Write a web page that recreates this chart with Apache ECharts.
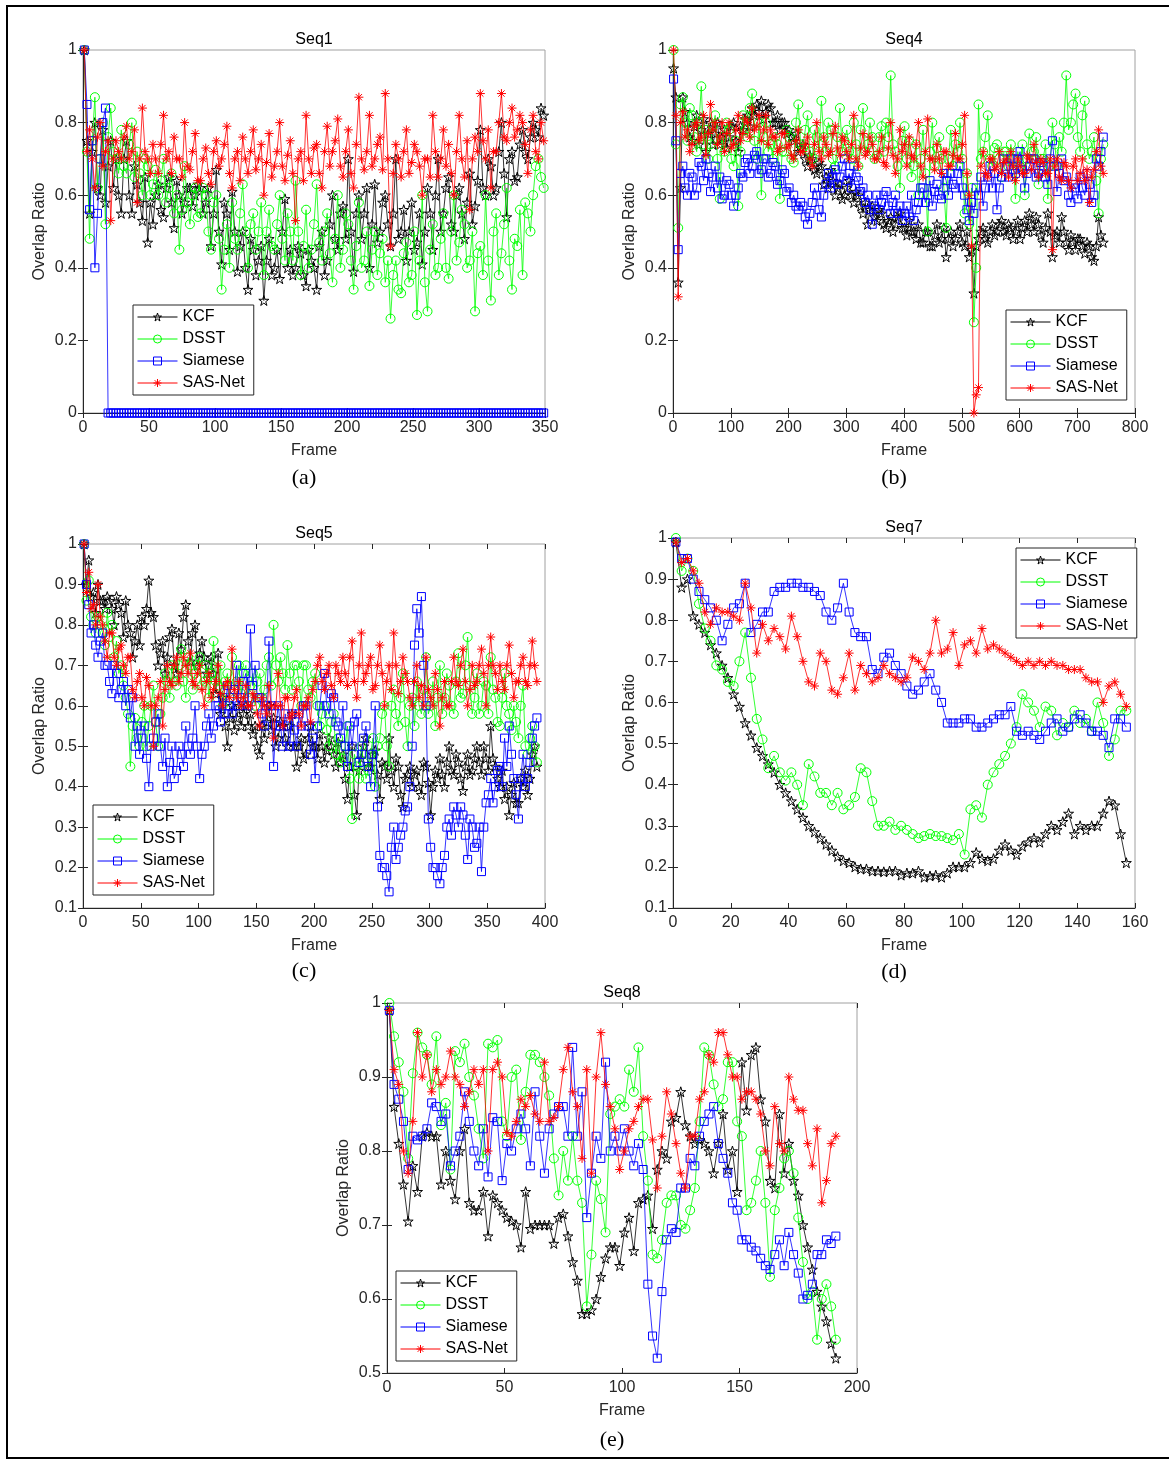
<!doctype html>
<html>
<head>
<meta charset="utf-8">
<title>Overlap Ratio</title>
<script src="https://cdn.jsdelivr.net/npm/echarts@6/dist/echarts.min.js"></script>
<style>
html, body { margin: 0; padding: 0; background: #fff; }
#main { width: 1169px; height: 1461px; }
</style>
</head>
<body>
<div id="main"></div>
<script>
var trackers = ['KCF', 'DSST', 'Siamese', 'SAS-Net'];

// Seq1: one value every 2 frames, starting at frame 1
var seq1Step = 2;
var seq1KCF = [1.0,0.75,0.55,0.72,0.8,0.62,0.6,0.78,0.58,0.68,0.75,0.62,0.7,0.6,0.55,0.7,0.75,0.6,0.55,0.68,
  0.63,0.58,0.53,0.65,0.47,0.58,0.52,0.6,0.63,0.56,0.54,0.62,0.65,0.58,0.51,0.64,0.6,0.55,0.58,0.62,
  0.62,0.57,0.6,0.63,0.62,0.55,0.58,0.62,0.46,0.55,0.67,0.5,0.41,0.58,0.55,0.45,0.61,0.5,0.39,0.46,
  0.5,0.4,0.34,0.48,0.45,0.38,0.42,0.46,0.31,0.42,0.48,0.38,0.4,0.45,0.37,0.5,0.59,0.4,0.45,0.38,
  0.4,0.46,0.44,0.38,0.35,0.45,0.42,0.4,0.34,0.46,0.5,0.38,0.42,0.52,0.6,0.48,0.45,0.55,0.57,0.48,
  0.7,0.5,0.39,0.55,0.6,0.48,0.55,0.62,0.4,0.52,0.63,0.47,0.5,0.58,0.6,0.52,0.46,0.55,0.7,0.48,
  0.5,0.56,0.42,0.5,0.58,0.45,0.47,0.55,0.41,0.5,0.62,0.55,0.45,0.6,0.7,0.5,0.55,0.62,0.65,0.52,
  0.5,0.6,0.62,0.55,0.48,0.58,0.66,0.52,0.57,0.64,0.78,0.62,0.6,0.7,0.68,0.6,0.62,0.72,0.8,0.66,
  0.54,0.7,0.72,0.64,0.65,0.74,0.78,0.72,0.7,0.76,0.8,0.78,0.76,0.84,0.82];
var seq1DSST = [1.0,0.72,0.48,0.75,0.87,0.62,0.7,0.8,0.52,0.76,0.84,0.72,0.7,0.66,0.78,0.68,0.66,0.74,0.8,0.65,
  0.72,0.66,0.6,0.7,0.68,0.6,0.63,0.67,0.6,0.64,0.7,0.58,0.62,0.66,0.55,0.6,0.45,0.56,0.68,0.58,
  0.52,0.6,0.62,0.54,0.55,0.62,0.6,0.5,0.45,0.58,0.6,0.48,0.34,0.45,0.52,0.4,0.58,0.48,0.45,0.55,
  0.63,0.5,0.4,0.52,0.55,0.45,0.5,0.58,0.38,0.5,0.56,0.46,0.45,0.52,0.6,0.48,0.42,0.55,0.5,0.42,
  0.64,0.5,0.38,0.46,0.56,0.4,0.45,0.52,0.63,0.47,0.42,0.5,0.55,0.44,0.36,0.48,0.6,0.4,0.45,0.55,
  0.52,0.42,0.34,0.46,0.58,0.4,0.42,0.5,0.35,0.45,0.5,0.38,0.44,0.48,0.36,0.42,0.26,0.38,0.42,0.34,
  0.33,0.44,0.47,0.36,0.38,0.5,0.27,0.42,0.6,0.36,0.28,0.45,0.52,0.38,0.4,0.48,0.55,0.4,0.37,0.5,
  0.6,0.42,0.47,0.56,0.52,0.4,0.42,0.5,0.28,0.44,0.46,0.38,0.6,0.42,0.31,0.5,0.55,0.38,0.44,0.52,
  0.62,0.42,0.34,0.48,0.46,0.56,0.38,0.58,0.55,0.5,0.6,0.68,0.7,0.65,0.62];
var seq1Siamese = [1.0,0.85,0.56,0.75,0.4,0.55,0.7,0.8,0.84,0,0,0,0,0,0,0,0,0,0,0,
  0,0,0,0,0,0,0,0,0,0,0,0,0,0,0,0,0,0,0,0,
  0,0,0,0,0,0,0,0,0,0,0,0,0,0,0,0,0,0,0,0,
  0,0,0,0,0,0,0,0,0,0,0,0,0,0,0,0,0,0,0,0,
  0,0,0,0,0,0,0,0,0,0,0,0,0,0,0,0,0,0,0,0,
  0,0,0,0,0,0,0,0,0,0,0,0,0,0,0,0,0,0,0,0,
  0,0,0,0,0,0,0,0,0,0,0,0,0,0,0,0,0,0,0,0,
  0,0,0,0,0,0,0,0,0,0,0,0,0,0,0,0,0,0,0,0,
  0,0,0,0,0,0,0,0,0,0,0,0,0,0,0];
var seq1SAS = [1.0,0.72,0.78,0.7,0.62,0.76,0.8,0.68,0.72,0.75,0.53,0.7,0.75,0.72,0.7,0.76,0.79,0.7,0.72,0.78,
  0.58,0.7,0.84,0.72,0.7,0.66,0.74,0.7,0.66,0.74,0.82,0.7,0.72,0.66,0.76,0.7,0.7,0.65,0.8,0.68,
  0.67,0.72,0.77,0.64,0.64,0.7,0.73,0.66,0.63,0.72,0.75,0.68,0.7,0.74,0.79,0.66,0.62,0.7,0.72,0.64,
  0.76,0.7,0.66,0.72,0.78,0.67,0.7,0.74,0.6,0.69,0.77,0.65,0.68,0.72,0.8,0.68,0.64,0.71,0.75,0.66,
  0.53,0.7,0.72,0.64,0.82,0.7,0.66,0.73,0.74,0.66,0.62,0.72,0.79,0.68,0.72,0.75,0.81,0.68,0.65,0.72,
  0.78,0.66,0.62,0.74,0.87,0.7,0.67,0.72,0.82,0.68,0.7,0.74,0.76,0.67,0.88,0.7,0.46,0.66,0.74,0.7,
  0.65,0.72,0.78,0.66,0.69,0.74,0.72,0.68,0.6,0.7,0.7,0.65,0.82,0.72,0.65,0.7,0.78,0.68,0.74,0.66,
  0.6,0.72,0.82,0.7,0.65,0.75,0.56,0.7,0.76,0.72,0.88,0.75,0.7,0.78,0.62,0.72,0.72,0.8,0.88,0.76,
  0.75,0.8,0.84,0.76,0.78,0.82,0.8,0.74,0.66,0.78,0.82,0.72,0.7,0.8,0.75];

// Seq4: one value every 4 frames
var seq4Step = 4;
var seq4KCF = [0.95,0.87,0.36,0.62,0.87,0.83,0.8,0.76,0.75,0.79,0.82,0.74,0.78,0.81,0.72,0.77,0.8,0.74,0.77,0.8,
  0.74,0.76,0.78,0.73,0.76,0.79,0.8,0.75,0.72,0.79,0.78,0.81,0.82,0.79,0.84,0.82,0.85,0.83,0.86,0.81,
  0.83,0.85,0.84,0.8,0.8,0.82,0.78,0.8,0.8,0.77,0.78,0.76,0.75,0.77,0.72,0.73,0.74,0.7,0.68,0.71,
  0.7,0.67,0.66,0.69,0.68,0.63,0.65,0.62,0.67,0.64,0.6,0.62,0.63,0.59,0.6,0.62,0.64,0.6,0.58,0.61,
  0.6,0.57,0.55,0.58,0.52,0.56,0.57,0.54,0.53,0.56,0.55,0.52,0.51,0.53,0.54,0.5,0.52,0.54,0.55,0.51,
  0.51,0.49,0.53,0.5,0.5,0.48,0.52,0.47,0.47,0.5,0.5,0.46,0.46,0.49,0.52,0.47,0.48,0.51,0.43,0.48,
  0.5,0.46,0.48,0.5,0.52,0.47,0.46,0.5,0.43,0.45,0.33,0.46,0.48,0.5,0.51,0.48,0.47,0.5,0.52,0.49,
  0.5,0.52,0.53,0.5,0.49,0.52,0.51,0.48,0.5,0.53,0.48,0.51,0.53,0.5,0.55,0.52,0.5,0.54,0.52,0.49,
  0.47,0.51,0.55,0.5,0.43,0.49,0.5,0.47,0.54,0.5,0.47,0.45,0.49,0.47,0.45,0.48,0.48,0.46,0.44,0.47,
  0.46,0.43,0.42,0.46,0.54,0.49,0.47];
var seq4DSST = [1.0,0.74,0.51,0.85,0.87,0.8,0.75,0.84,0.82,0.76,0.72,0.8,0.9,0.74,0.78,0.7,0.74,0.79,0.82,0.7,
  0.59,0.76,0.72,0.8,0.78,0.7,0.68,0.75,0.57,0.72,0.82,0.78,0.76,0.84,0.88,0.75,0.7,0.8,0.6,0.76,
  0.8,0.72,0.74,0.7,0.76,0.74,0.59,0.72,0.72,0.78,0.76,0.7,0.69,0.8,0.85,0.74,0.73,0.78,0.82,0.72,
  0.7,0.78,0.76,0.72,0.86,0.76,0.72,0.8,0.78,0.7,0.68,0.76,0.84,0.72,0.75,0.78,0.72,0.7,0.8,0.74,
  0.68,0.78,0.84,0.72,0.74,0.8,0.76,0.7,0.71,0.76,0.79,0.72,0.8,0.76,0.93,0.74,0.72,0.68,0.62,0.75,
  0.79,0.7,0.75,0.65,0.68,0.74,0.6,0.7,0.78,0.66,0.5,0.72,0.8,0.68,0.73,0.76,0.7,0.62,0.51,0.7,
  0.78,0.68,0.74,0.72,0.8,0.7,0.55,0.66,0.52,0.62,0.25,0.4,0.85,0.7,0.72,0.76,0.82,0.7,0.68,0.73,
  0.74,0.7,0.65,0.72,0.72,0.68,0.74,0.7,0.59,0.72,0.68,0.74,0.6,0.7,0.77,0.72,0.72,0.76,0.63,0.7,
  0.7,0.74,0.59,0.68,0.8,0.74,0.68,0.76,0.72,0.8,0.93,0.78,0.8,0.85,0.88,0.76,0.72,0.82,0.86,0.74,
  0.7,0.72,0.76,0.64,0.55,0.7,0.74];
var seq4Siamese = [0.92,0.75,0.45,0.66,0.68,0.62,0.6,0.66,0.65,0.6,0.62,0.69,0.68,0.64,0.7,0.66,0.61,0.65,0.68,0.62,
  0.65,0.59,0.6,0.64,0.63,0.6,0.57,0.6,0.62,0.66,0.65,0.69,0.7,0.66,0.68,0.71,0.72,0.66,0.67,0.7,
  0.7,0.65,0.66,0.69,0.68,0.63,0.64,0.67,0.66,0.61,0.62,0.58,0.6,0.57,0.56,0.58,0.57,0.54,0.52,0.55,
  0.58,0.62,0.6,0.56,0.54,0.6,0.63,0.66,0.62,0.65,0.67,0.63,0.65,0.68,0.7,0.64,0.66,0.62,0.68,0.65,
  0.64,0.61,0.62,0.58,0.6,0.56,0.52,0.57,0.6,0.56,0.58,0.6,0.61,0.57,0.55,0.58,0.6,0.55,0.57,0.53,
  0.55,0.57,0.54,0.6,0.53,0.56,0.58,0.62,0.62,0.58,0.6,0.64,0.57,0.61,0.63,0.6,0.59,0.66,0.64,0.6,
  0.66,0.63,0.62,0.66,0.68,0.62,0.6,0.56,0.53,0.58,0.55,0.62,0.6,0.65,0.57,0.62,0.65,0.68,0.62,0.66,
  0.56,0.62,0.65,0.7,0.68,0.65,0.7,0.67,0.66,0.7,0.72,0.67,0.62,0.66,0.68,0.7,0.7,0.65,0.66,0.69,
  0.68,0.65,0.63,0.7,0.75,0.68,0.61,0.66,0.7,0.64,0.65,0.6,0.58,0.63,0.62,0.59,0.65,0.62,0.6,0.66,
  0.63,0.58,0.6,0.7,0.68,0.72,0.76];
var seq4SAS = [1.0,0.82,0.32,0.8,0.83,0.76,0.78,0.72,0.74,0.79,0.8,0.75,0.76,0.82,0.71,0.77,0.85,0.78,0.8,0.74,
  0.76,0.8,0.72,0.77,0.8,0.73,0.74,0.78,0.82,0.75,0.77,0.81,0.8,0.76,0.84,0.78,0.79,0.82,0.75,0.78,
  0.82,0.74,0.78,0.76,0.76,0.72,0.73,0.77,0.77,0.73,0.74,0.71,0.7,0.75,0.78,0.72,0.72,0.74,0.76,0.7,
  0.68,0.74,0.8,0.72,0.7,0.76,0.74,0.71,0.72,0.77,0.79,0.73,0.71,0.76,0.75,0.72,0.7,0.74,0.82,0.7,
  0.68,0.73,0.77,0.71,0.72,0.76,0.74,0.7,0.7,0.72,0.76,0.69,0.68,0.73,0.8,0.71,0.66,0.7,0.78,0.72,
  0.74,0.68,0.76,0.71,0.7,0.74,0.8,0.68,0.65,0.72,0.81,0.7,0.7,0.67,0.74,0.7,0.66,0.72,0.72,0.68,
  0.68,0.71,0.77,0.7,0.7,0.74,0.82,0.66,0.6,0.46,0.0,0.05,0.07,0.68,0.72,0.66,0.65,0.7,0.7,0.67,
  0.68,0.72,0.66,0.69,0.7,0.65,0.72,0.68,0.64,0.7,0.68,0.66,0.66,0.71,0.7,0.67,0.74,0.69,0.65,0.7,
  0.69,0.66,0.66,0.7,0.45,0.68,0.7,0.65,0.64,0.69,0.68,0.64,0.62,0.68,0.7,0.64,0.66,0.7,0.64,0.67,
  0.58,0.65,0.67,0.72,0.78,0.68,0.66];

// Seq5: one value every 2 frames
var seq5Step = 2;
var seq5KCF = [1.0,0.9,0.96,0.87,0.88,0.83,0.9,0.86,0.86,0.84,0.87,0.86,0.84,0.8,0.87,0.85,0.83,0.77,0.86,0.8,
  0.78,0.72,0.76,0.8,0.75,0.82,0.8,0.84,0.91,0.83,0.82,0.75,0.7,0.73,0.76,0.68,0.72,0.77,0.79,0.7,
  0.68,0.78,0.74,0.82,0.85,0.76,0.71,0.78,0.8,0.7,0.73,0.76,0.72,0.68,0.7,0.72,0.68,0.63,0.73,0.58,
  0.62,0.55,0.5,0.57,0.6,0.54,0.57,0.6,0.55,0.58,0.6,0.55,0.58,0.53,0.55,0.5,0.48,0.55,0.52,0.56,
  0.6,0.54,0.57,0.5,0.52,0.56,0.55,0.52,0.5,0.55,0.58,0.5,0.45,0.5,0.52,0.47,0.48,0.52,0.55,0.5,
  0.5,0.47,0.53,0.5,0.46,0.49,0.52,0.5,0.48,0.45,0.51,0.46,0.48,0.42,0.37,0.45,0.5,0.38,0.33,0.44,
  0.47,0.5,0.52,0.45,0.45,0.48,0.49,0.43,0.37,0.46,0.45,0.42,0.52,0.44,0.4,0.47,0.45,0.38,0.35,0.42,
  0.43,0.45,0.4,0.43,0.44,0.4,0.38,0.46,0.45,0.41,0.33,0.4,0.44,0.42,0.47,0.43,0.4,0.46,0.5,0.44,
  0.43,0.48,0.46,0.42,0.39,0.45,0.48,0.43,0.44,0.47,0.5,0.46,0.43,0.5,0.47,0.44,0.55,0.47,0.45,0.42,
  0.4,0.44,0.37,0.4,0.33,0.38,0.41,0.36,0.36,0.42,0.4,0.44,0.38,0.42,0.48,0.5,0.45];
var seq5DSST = [1.0,0.86,0.91,0.82,0.8,0.78,0.82,0.8,0.78,0.75,0.83,0.77,0.8,0.72,0.76,0.68,0.7,0.65,0.62,0.58,
  0.45,0.55,0.57,0.52,0.5,0.56,0.6,0.5,0.55,0.6,0.65,0.56,0.5,0.58,0.62,0.68,0.66,0.62,0.7,0.66,
  0.65,0.7,0.74,0.66,0.62,0.72,0.7,0.64,0.68,0.7,0.72,0.65,0.66,0.7,0.62,0.68,0.76,0.66,0.65,0.7,
  0.6,0.66,0.68,0.62,0.72,0.64,0.66,0.7,0.63,0.68,0.7,0.62,0.65,0.68,0.6,0.66,0.68,0.62,0.64,0.7,
  0.72,0.65,0.8,0.7,0.66,0.72,0.68,0.64,0.75,0.68,0.64,0.7,0.7,0.66,0.6,0.7,0.7,0.64,0.62,0.66,
  0.68,0.6,0.55,0.58,0.6,0.54,0.5,0.56,0.58,0.48,0.52,0.46,0.47,0.5,0.55,0.42,0.32,0.48,0.45,0.42,
  0.5,0.46,0.42,0.44,0.48,0.52,0.4,0.5,0.52,0.58,0.6,0.5,0.45,0.6,0.64,0.58,0.55,0.62,0.68,0.56,
  0.5,0.6,0.62,0.55,0.66,0.6,0.58,0.64,0.72,0.58,0.6,0.66,0.55,0.62,0.7,0.58,0.62,0.68,0.65,0.6,
  0.58,0.66,0.73,0.62,0.63,0.7,0.77,0.65,0.58,0.62,0.68,0.58,0.6,0.66,0.65,0.58,0.72,0.64,0.62,0.56,
  0.55,0.62,0.68,0.6,0.58,0.54,0.6,0.56,0.52,0.6,0.65,0.5,0.48,0.52,0.55,0.5,0.46];
var seq5Siamese = [1.0,0.9,0.85,0.78,0.8,0.75,0.72,0.76,0.78,0.7,0.7,0.66,0.63,0.7,0.68,0.62,0.64,0.66,0.6,0.64,
  0.57,0.62,0.5,0.55,0.48,0.52,0.55,0.47,0.4,0.5,0.52,0.56,0.58,0.5,0.45,0.52,0.4,0.46,0.5,0.42,
  0.44,0.5,0.48,0.45,0.55,0.5,0.48,0.52,0.6,0.5,0.42,0.48,0.5,0.55,0.58,0.52,0.55,0.6,0.6,0.56,
  0.62,0.58,0.65,0.6,0.58,0.64,0.7,0.6,0.62,0.66,0.68,0.6,0.79,0.65,0.7,0.62,0.62,0.58,0.55,0.6,
  0.76,0.6,0.45,0.55,0.6,0.55,0.5,0.58,0.55,0.5,0.58,0.54,0.5,0.58,0.55,0.6,0.6,0.55,0.48,0.52,
  0.42,0.55,0.6,0.65,0.68,0.6,0.58,0.63,0.62,0.56,0.55,0.52,0.6,0.5,0.45,0.55,0.5,0.56,0.58,0.46,
  0.48,0.52,0.55,0.45,0.4,0.48,0.6,0.35,0.23,0.2,0.2,0.18,0.14,0.25,0.3,0.22,0.25,0.28,0.3,0.34,
  0.35,0.4,0.5,0.75,0.84,0.78,0.87,0.7,0.6,0.32,0.25,0.2,0.2,0.18,0.16,0.2,0.23,0.3,0.32,0.28,
  0.35,0.33,0.3,0.35,0.33,0.28,0.22,0.32,0.3,0.25,0.26,0.3,0.19,0.3,0.36,0.38,0.42,0.36,0.4,0.44,
  0.45,0.4,0.52,0.45,0.55,0.48,0.42,0.38,0.32,0.42,0.48,0.4,0.42,0.46,0.52,0.55,0.57];
var seq5SAS = [1.0,0.88,0.93,0.84,0.85,0.8,0.9,0.82,0.8,0.76,0.72,0.78,0.78,0.72,0.7,0.74,0.75,0.7,0.68,0.72,
  0.72,0.64,0.62,0.66,0.68,0.62,0.6,0.67,0.65,0.6,0.5,0.6,0.62,0.66,0.55,0.64,0.7,0.66,0.65,0.7,
  0.72,0.66,0.68,0.72,0.7,0.68,0.73,0.66,0.65,0.68,0.7,0.64,0.6,0.66,0.68,0.62,0.64,0.66,0.7,0.63,
  0.6,0.65,0.66,0.62,0.74,0.64,0.62,0.66,0.6,0.62,0.65,0.6,0.6,0.63,0.62,0.58,0.55,0.62,0.6,0.58,
  0.65,0.6,0.52,0.6,0.68,0.6,0.55,0.62,0.62,0.57,0.58,0.62,0.64,0.58,0.55,0.6,0.6,0.62,0.56,0.64,
  0.66,0.7,0.72,0.66,0.64,0.68,0.7,0.65,0.62,0.7,0.68,0.66,0.72,0.68,0.65,0.72,0.76,0.66,0.62,0.7,
  0.78,0.66,0.68,0.7,0.72,0.64,0.65,0.7,0.75,0.68,0.6,0.66,0.7,0.64,0.78,0.7,0.63,0.66,0.72,0.68,
  0.66,0.62,0.6,0.66,0.7,0.62,0.65,0.6,0.72,0.64,0.62,0.6,0.68,0.64,0.55,0.62,0.66,0.6,0.6,0.66,
  0.72,0.66,0.65,0.7,0.74,0.66,0.6,0.64,0.7,0.65,0.66,0.7,0.74,0.68,0.6,0.7,0.77,0.7,0.68,0.64,
  0.7,0.66,0.64,0.7,0.75,0.68,0.62,0.66,0.66,0.7,0.72,0.66,0.65,0.7,0.76,0.7,0.66];

// Seq7: one value every 2 frames
var seq7Step = 2;
var seq7KCF = [0.99,0.88,0.9,0.81,0.79,0.77,0.74,0.72,0.69,0.66,
  0.62,0.59,0.55,0.52,0.49,0.47,0.45,0.43,0.4,0.38,
  0.36,0.34,0.32,0.3,0.285,0.27,0.255,0.24,0.225,0.215,
  0.21,0.2,0.195,0.195,0.19,0.19,0.188,0.19,0.19,0.18,
  0.185,0.185,0.19,0.175,0.178,0.18,0.175,0.185,0.2,0.2,
  0.2,0.21,0.235,0.22,0.215,0.22,0.24,0.255,0.24,0.23,
  0.25,0.26,0.27,0.26,0.28,0.3,0.29,0.31,0.33,0.28,
  0.3,0.29,0.3,0.3,0.33,0.36,0.35,0.28,0.21];
var seq7DSST = [1.0,0.92,0.95,0.92,0.84,0.78,0.75,0.69,0.68,0.65,
  0.64,0.7,0.77,0.66,0.56,0.51,0.44,0.47,0.43,0.41,
  0.43,0.4,0.35,0.45,0.42,0.38,0.38,0.35,0.38,0.34,
  0.35,0.37,0.44,0.43,0.36,0.3,0.3,0.31,0.29,0.3,
  0.29,0.28,0.27,0.275,0.28,0.275,0.275,0.27,0.265,0.28,
  0.23,0.34,0.35,0.32,0.4,0.43,0.45,0.47,0.5,0.54,
  0.62,0.6,0.58,0.54,0.59,0.58,0.52,0.55,0.54,0.58,
  0.55,0.56,0.53,0.6,0.55,0.47,0.51,0.58,0.58];
var seq7Siamese = [0.99,0.95,0.95,0.9,0.87,0.85,0.83,0.8,0.75,0.79,
  0.83,0.84,0.89,0.77,0.79,0.82,0.82,0.87,0.88,0.88,
  0.89,0.89,0.88,0.88,0.87,0.86,0.82,0.8,0.83,0.89,
  0.82,0.77,0.76,0.76,0.68,0.67,0.71,0.72,0.69,0.67,
  0.64,0.62,0.63,0.65,0.67,0.63,0.6,0.55,0.55,0.55,
  0.56,0.56,0.54,0.54,0.55,0.56,0.57,0.57,0.59,0.53,
  0.52,0.53,0.52,0.51,0.53,0.55,0.56,0.53,0.54,0.56,
  0.57,0.55,0.53,0.53,0.52,0.49,0.56,0.56,0.54];
var seq7SAS = [0.99,0.94,0.95,0.92,0.89,0.82,0.79,0.83,0.82,0.82,
  0.81,0.8,0.89,0.83,0.72,0.79,0.75,0.78,0.76,0.73,
  0.81,0.76,0.7,0.65,0.64,0.72,0.7,0.63,0.62,0.66,
  0.72,0.63,0.69,0.67,0.65,0.66,0.69,0.67,0.66,0.65,
  0.66,0.71,0.7,0.68,0.72,0.8,0.72,0.73,0.77,0.69,
  0.74,0.75,0.72,0.78,0.73,0.74,0.73,0.72,0.71,0.7,
  0.69,0.7,0.69,0.7,0.69,0.7,0.69,0.69,0.68,0.68,
  0.68,0.66,0.65,0.65,0.6,0.64,0.65,0.62,0.59];

// Seq8: one value every 2 frames
var seq8Step = 2;
var seq8KCF = [0.99,0.86,0.81,0.755,0.705,0.78,0.745,0.82,0.825,0.82,
  0.82,0.755,0.8,0.76,0.735,0.8,0.83,0.73,0.72,0.72,
  0.745,0.685,0.74,0.73,0.72,0.71,0.705,0.7,0.67,0.745,
  0.695,0.7,0.7,0.7,0.7,0.675,0.71,0.715,0.685,0.65,
  0.625,0.58,0.58,0.585,0.6,0.63,0.655,0.67,0.67,0.645,
  0.69,0.71,0.665,0.73,0.735,0.74,0.695,0.775,0.8,0.79,
  0.84,0.845,0.88,0.835,0.82,0.81,0.815,0.81,0.8,0.77,
  0.81,0.85,0.775,0.8,0.745,0.92,0.855,0.93,0.94,0.87,
  0.84,0.76,0.75,0.85,0.77,0.81,0.76,0.74,0.7,0.67,
  0.64,0.61,0.59,0.57,0.54,0.52];
var seq8DSST = [1.0,0.955,0.92,0.88,0.79,0.905,0.96,0.94,0.93,0.89,
  0.955,0.835,0.865,0.775,0.935,0.92,0.945,0.9,0.875,0.83,
  0.79,0.945,0.94,0.95,0.84,0.82,0.9,0.91,0.815,0.88,
  0.93,0.93,0.92,0.9,0.875,0.79,0.74,0.8,0.76,0.82,
  0.76,0.73,0.59,0.66,0.76,0.735,0.69,0.85,0.86,0.87,
  0.86,0.91,0.88,0.94,0.82,0.76,0.66,0.655,0.68,0.73,
  0.74,0.74,0.7,0.695,0.72,0.75,0.84,0.94,0.93,0.89,
  0.86,0.87,0.92,0.92,0.84,0.82,0.72,0.73,0.76,0.8,
  0.73,0.63,0.72,0.75,0.79,0.8,0.77,0.71,0.65,0.6,
  0.61,0.545,0.6,0.62,0.59,0.545];
var seq8Siamese = [0.99,0.89,0.87,0.84,0.775,0.82,0.815,0.82,0.83,0.865,
  0.86,0.84,0.85,0.78,0.8,0.82,0.88,0.84,0.8,0.78,
  0.83,0.765,0.845,0.84,0.76,0.81,0.8,0.83,0.85,0.83,
  0.78,0.88,0.82,0.77,0.83,0.85,0.86,0.86,0.82,0.94,
  0.82,0.88,0.71,0.77,0.82,0.79,0.92,0.8,0.82,0.8,
  0.83,0.8,0.78,0.81,0.775,0.62,0.55,0.52,0.61,0.68,
  0.695,0.69,0.75,0.75,0.79,0.78,0.82,0.84,0.85,0.86,
  0.81,0.79,0.77,0.73,0.72,0.68,0.68,0.67,0.665,0.655,
  0.645,0.64,0.66,0.68,0.645,0.69,0.66,0.635,0.6,0.605,
  0.62,0.66,0.66,0.68,0.675,0.685];
var seq8SAS = [0.99,0.91,0.89,0.8,0.77,0.84,0.96,0.9,0.93,0.88,
  0.91,0.89,0.9,0.935,0.9,0.89,0.86,0.88,0.91,0.89,
  0.91,0.8,0.91,0.92,0.9,0.825,0.82,0.84,0.87,0.86,
  0.875,0.85,0.84,0.92,0.84,0.845,0.86,0.91,0.94,0.88,
  0.86,0.79,0.91,0.77,0.9,0.96,0.89,0.86,0.83,0.775,
  0.8,0.83,0.84,0.86,0.87,0.87,0.815,0.75,0.82,0.88,
  0.85,0.81,0.77,0.75,0.82,0.82,0.87,0.88,0.93,0.92,
  0.96,0.96,0.93,0.9,0.9,0.87,0.88,0.88,0.87,0.85,
  0.8,0.78,0.86,0.81,0.8,0.9,0.87,0.855,0.855,0.81,
  0.78,0.83,0.73,0.76,0.81,0.82];

var sans = '"Liberation Sans", Arial, sans-serif';
var axisGray = '#262626';

var starPath = 'path://M0,-10L2.25,-3.09L9.51,-3.09L3.63,1.18L5.88,8.09L0,3.82L-5.88,8.09L-3.63,1.18L-9.51,-3.09L-2.25,-3.09Z';
var asteriskPath = 'path://M0,-10L0,10M-10,0L10,0M-7,-7L7,7M-7,7L7,-7';
var looks = [
  { color: '#000000', symbol: starPath, size: 10 },
  { color: '#00ff00', symbol: 'circle', size: 9 },
  { color: '#0000ff', symbol: 'rect', size: 8 },
  { color: '#ff0000', symbol: asteriskPath, size: 9 }
];
var hollow = 'rgba(0,0,0,0)';

var panels = [
  { title: 'Seq1', cap: '(a)', left: 83, top: 50, w: 462, h: 363, xMax: 350, xInt: 50, yMin: 0, yMax: 1, yInt: 0.2,
    step: seq1Step, vals: [seq1KCF, seq1DSST, seq1Siamese, seq1SAS], lgLeft: 133, lgTop: 305, capY: 478 },
  { title: 'Seq4', cap: '(b)', left: 673, top: 50, w: 462, h: 363, xMax: 800, xInt: 100, yMin: 0, yMax: 1, yInt: 0.2,
    step: seq4Step, vals: [seq4KCF, seq4DSST, seq4Siamese, seq4SAS], lgLeft: 1006, lgTop: 310, capY: 478 },
  { title: 'Seq5', cap: '(c)', left: 83, top: 544, w: 462, h: 364, xMax: 400, xInt: 50, yMin: 0.1, yMax: 1, yInt: 0.1,
    step: seq5Step, vals: [seq5KCF, seq5DSST, seq5Siamese, seq5SAS], lgLeft: 93, lgTop: 805, capY: 971 },
  { title: 'Seq7', cap: '(d)', left: 673, top: 538, w: 462, h: 370, xMax: 160, xInt: 20, yMin: 0.1, yMax: 1, yInt: 0.1,
    step: seq7Step, vals: [seq7KCF, seq7DSST, seq7Siamese, seq7SAS], lgLeft: 1016, lgTop: 548, capY: 972 },
  { title: 'Seq8', cap: '(e)', left: 387, top: 1003, w: 470, h: 370, xMax: 200, xInt: 50, yMin: 0.5, yMax: 1, yInt: 0.1,
    step: seq8Step, vals: [seq8KCF, seq8DSST, seq8Siamese, seq8SAS], lgLeft: 396, lgTop: 1271, capY: 1440 }
];

var grids = [], xAxes = [], yAxes = [], series = [], legends = [];
var graphics = [{
  type: 'rect', shape: { x: 7, y: 6, width: 1170, height: 1452 },
  style: { fill: 'none', stroke: '#000', lineWidth: 2 }, silent: true
}];

function yFmt(v) { return String(Math.round(v * 10) / 10); }

// legend entries drawn like MATLAB: thin line with a hollow marker
var legendItems = trackers.map(function (n, t) {
  return {
    name: n,
    itemStyle: { color: hollow, borderColor: looks[t].color, borderWidth: 1 },
    lineStyle: { color: looks[t].color, width: 1 }
  };
});

panels.forEach(function (p, k) {
  grids.push({ left: p.left, top: p.top, width: p.w, height: p.h, show: true,
    borderColor: '#a0a0a0', borderWidth: 1, backgroundColor: '#fff' });

  var tick = { show: true, inside: true, length: 5, lineStyle: { color: axisGray, width: 1 } };
  xAxes.push({
    gridIndex: k, type: 'value', min: 0, max: p.xMax, interval: p.xInt, position: 'bottom',
    name: 'Frame', nameLocation: 'middle', nameGap: 30,
    nameTextStyle: { fontSize: 16, color: axisGray, fontFamily: sans },
    axisLine: { show: true, onZero: false, lineStyle: { color: axisGray, width: 1 } },
    axisTick: tick,
    axisLabel: { fontSize: 16, color: axisGray, fontFamily: sans, margin: 7 },
    splitLine: { show: false }
  });
  xAxes.push({
    gridIndex: k, type: 'value', min: 0, max: p.xMax, interval: p.xInt, position: 'top',
    axisLine: { show: false }, axisTick: tick, axisLabel: { show: false }, splitLine: { show: false }
  });
  yAxes.push({
    gridIndex: k, type: 'value', min: p.yMin, max: p.yMax, interval: p.yInt, position: 'left',
    name: 'Overlap Ratio', nameLocation: 'middle', nameGap: 35,
    nameTextStyle: { fontSize: 16, color: axisGray, fontFamily: sans },
    axisLine: { show: true, onZero: false, lineStyle: { color: axisGray, width: 1 } },
    axisTick: tick,
    axisLabel: { fontSize: 16, color: axisGray, fontFamily: sans, margin: 6, formatter: yFmt },
    splitLine: { show: false }
  });
  yAxes.push({
    gridIndex: k, type: 'value', min: p.yMin, max: p.yMax, interval: p.yInt, position: 'right',
    axisLine: { show: false }, axisTick: tick, axisLabel: { show: false }, splitLine: { show: false }
  });

  p.vals.forEach(function (vals, t) {
    var lk = looks[t];
    series.push({
      name: trackers[t], type: 'line', xAxisIndex: 2 * k, yAxisIndex: 2 * k,
      data: vals.map(function (v, i) { return [1 + i * p.step, v]; }),
      symbol: lk.symbol, symbolSize: lk.size, showSymbol: true, showAllSymbol: true,
      lineStyle: { color: lk.color, width: 0.8 },
      itemStyle: { color: hollow, borderColor: lk.color, borderWidth: 1 },
      silent: true, animation: false, z: 2 + t
    });
  });

  legends.push({
    left: p.lgLeft, top: p.lgTop, orient: 'vertical', data: legendItems,
    itemWidth: 40, itemHeight: 10, itemGap: 4, padding: [3, 9, 3, 4],
    backgroundColor: '#fff', borderColor: axisGray, borderWidth: 1, borderRadius: 0,
    textStyle: { fontSize: 16, color: '#000', fontFamily: sans, lineHeight: 18 },
    selectedMode: false, z: 10
  });

  graphics.push({
    type: 'text', x: p.left + p.w / 2, y: p.top - 10,
    style: { text: p.title, fill: '#000', font: '16px ' + sans, textAlign: 'center', textVerticalAlign: 'middle' }
  });
  graphics.push({
    type: 'text', x: p.left + p.w / 2 - 10, y: p.capY,
    style: { text: p.cap, fill: '#000', font: '22px "Liberation Serif", "Times New Roman", serif',
      textAlign: 'center', textVerticalAlign: 'middle' }
  });
});

var myChart = echarts.init(document.getElementById('main'), null, { renderer: 'canvas' });
myChart.setOption({
  animation: false,
  backgroundColor: '#fff',
  grid: grids,
  xAxis: xAxes,
  yAxis: yAxes,
  legend: legends,
  series: series,
  graphic: graphics
});
</script>
</body>
</html>
